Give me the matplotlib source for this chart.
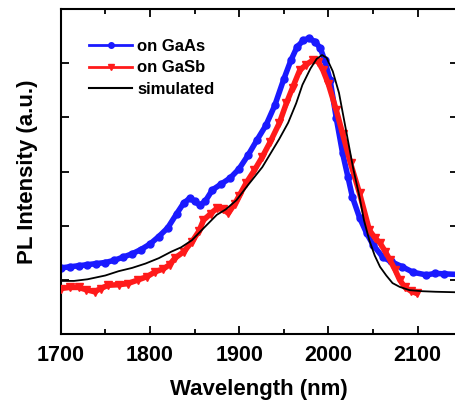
import matplotlib
matplotlib.use("Agg")
import matplotlib.pyplot as plt
from matplotlib.ticker import MultipleLocator
from matplotlib.lines import Line2D

plt.rcParams['font.family'] = ['Liberation Sans', 'DejaVu Sans']
plt.rcParams['font.weight'] = 'bold'

# ---- data ----
gaas_wl = [1700, 1710, 1720, 1730, 1740, 1750, 1760, 1770, 1780, 1790, 1800, 1810, 1820, 1830,
           1838, 1845, 1850, 1856, 1862, 1870, 1880, 1890, 1900, 1910, 1920, 1930, 1940, 1950,
           1958, 1965, 1972, 1978, 1985, 1991, 1996, 2002, 2009, 2016, 2022, 2027, 2035, 2043,
           2050, 2061, 2070, 2083, 2095, 2110, 2120, 2130, 2145]
gaas_int = [1.22, 1.24, 1.26, 1.28, 1.30, 1.32, 1.36, 1.42, 1.48, 1.56, 1.66, 1.80, 1.96, 2.22,
            2.42, 2.51, 2.45, 2.38, 2.45, 2.66, 2.77, 2.88, 3.05, 3.30, 3.58, 3.85, 4.22, 4.70,
            5.05, 5.30, 5.42, 5.46, 5.40, 5.28, 5.05, 4.69, 3.98, 3.34, 2.90, 2.53, 2.15, 1.86,
            1.65, 1.42, 1.34, 1.24, 1.14, 1.09, 1.12, 1.11, 1.10]

gasb_wl = [1700, 1710, 1720, 1728, 1738, 1745, 1753, 1765, 1775, 1787, 1797, 1806, 1815, 1822,
           1828, 1838, 1847, 1855, 1860, 1868, 1875, 1882, 1888, 1895, 1900, 1908, 1917, 1926,
           1935, 1945, 1953, 1960, 1968, 1975, 1983, 1989, 1994, 2000, 2009, 2016, 2025, 2035,
           2046, 2052, 2058, 2064, 2069, 2075, 2080, 2086, 2093, 2099]
gasb_int = [0.84, 0.86, 0.86, 0.82, 0.78, 0.84, 0.90, 0.91, 0.93, 1.00, 1.06, 1.15, 1.20, 1.28,
            1.40, 1.52, 1.70, 1.90, 2.10, 2.22, 2.32, 2.30, 2.23, 2.40, 2.55, 2.79, 3.02, 3.27,
            3.55, 3.89, 4.26, 4.55, 4.87, 4.97, 5.06, 5.02, 4.87, 4.62, 4.13, 3.70, 3.15, 2.60,
            1.92, 1.78, 1.68, 1.52, 1.37, 1.18, 1.00, 0.86, 0.79, 0.75]

sim_wl = [1700, 1715, 1730, 1750, 1765, 1780, 1795, 1810, 1824, 1835, 1847, 1860, 1875, 1885,
          1897, 1910, 1926, 1945, 1955, 1964, 1971, 1980, 1987, 1993, 1998, 2005, 2012, 2020,
          2028, 2035, 2040, 2046, 2052, 2058, 2065, 2072, 2080, 2091, 2105, 2120, 2145]
sim_int = [0.98, 0.98, 1.01, 1.08, 1.16, 1.22, 1.30, 1.40, 1.52, 1.60, 1.73, 1.95, 2.20, 2.30,
           2.47, 2.75, 3.08, 3.60, 3.90, 4.26, 4.60, 4.90, 5.08, 5.15, 5.10, 4.85, 4.45, 3.75,
           3.05, 2.53, 2.10, 1.73, 1.45, 1.24, 1.08, 0.94, 0.87, 0.81, 0.79, 0.78, 0.77]

labels = ["on GaAs", "on GaSb", "simulated"]
x_ticks = [1700, 1800, 1900, 2000, 2100]

BLUE = '#1a1aff'
RED = '#ff1a1a'

W, H = 456, 403
fig = plt.figure(figsize=(W / 100, H / 100), dpi=100)
x0, x1 = 1700, 2145
ppn = 0.892  # px per nm
left, right_px = 60.7, 60.7 + (x1 - x0) * ppn
top, bottom = 9, 334
ax = fig.add_axes([left / W, (H - bottom) / H, (right_px - left) / W, (bottom - top) / H])

ax.plot(gaas_wl, gaas_int, color=BLUE, lw=4.0, marker='o', ms=5, mec=BLUE, zorder=2)
ax.plot(gasb_wl, gasb_int, color=RED, lw=4.0, marker='v', ms=5.5, mec=RED, zorder=3)
ax.plot(sim_wl, sim_int, color='black', lw=1.3, zorder=4)

ax.set_xlim(x0, x1)
ax.set_ylim(0, 6)
ax.set_xticks(x_ticks)
ax.xaxis.set_minor_locator(MultipleLocator(50))
ax.set_yticks([1, 2, 3, 4, 5])
ax.set_yticklabels([])
ax.tick_params(axis='both', which='major', direction='in', length=6, width=1.3,
               top=True, right=True, labelsize=15.5, pad=8)
ax.tick_params(axis='x', which='minor', direction='in', length=3.5, width=1.3, top=True)
for lab in ax.get_xticklabels():
    lab.set_fontweight('bold')
for s in ax.spines.values():
    s.set_linewidth(1.5)

ax.set_xlabel("Wavelength (nm)", fontsize=16, fontweight='bold', labelpad=9)
ax.set_ylabel("PL Intensity (a.u.)", fontsize=16, fontweight='bold', labelpad=8)

handles = [
    Line2D([], [], color=BLUE, lw=2, marker='o', ms=4),
    Line2D([], [], color=RED, lw=2, marker='v', ms=4.5),
    Line2D([], [], color='black', lw=1.5),
]
leg = ax.legend(handles, labels, loc='upper left',
                bbox_to_anchor=((89 - left) / (right_px - left), (bottom - 39) / (bottom - top)),
                frameon=False, borderpad=0, borderaxespad=0, handlelength=2.6,
                handletextpad=0.3, labelspacing=0.38, prop={'size': 12, 'weight': 'bold'})

fig.savefig("out.png", dpi=100)
